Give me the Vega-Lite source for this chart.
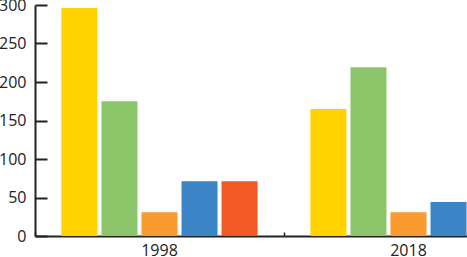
{
  "$schema": "https://vega.github.io/schema/vega-lite/v6.json",
  "autosize": {"type": "none"},
  "padding": {"left": 35, "top": 5, "right": 0, "bottom": 21},
  "width": 432,
  "height": 231,
  "background": "white",
  "config": {"view": {"stroke": null}, "font": "Open Sans"},
  "data": {
    "values": [
      {"year": "1998", "series": "s1", "value": 296},
      {"year": "1998", "series": "s2", "value": 175},
      {"year": "1998", "series": "s3", "value": 31},
      {"year": "1998", "series": "s4", "value": 71},
      {"year": "1998", "series": "s5", "value": 71},
      {"year": "2018", "series": "s1", "value": 165},
      {"year": "2018", "series": "s2", "value": 219},
      {"year": "2018", "series": "s3", "value": 31},
      {"year": "2018", "series": "s4", "value": 44}
    ]
  },
  "encoding": {
    "xOffset": {
      "field": "series",
      "type": "nominal",
      "scale": {"domain": ["s1", "s2", "s3", "s4", "s5"], "paddingInner": 0.1, "paddingOuter": 0.66}
    },
    "color": {
      "field": "series",
      "type": "nominal",
      "legend": null,
      "scale": {
        "domain": ["s1", "s2", "s3", "s4", "s5"],
        "range": ["#FFD200", "#8DC66A", "#F99B31", "#3C86C8", "#F15A25"]
      }
    }
  },
  "layer": [
    {
      "mark": {"type": "bar"},
      "encoding": {
        "x": {
          "field": "year",
          "type": "nominal",
          "scale": {"range": [0, 498], "paddingInner": 0, "paddingOuter": 0},
          "axis": {
            "title": null,
            "labelAngle": 0,
            "ticks": false,
            "domainColor": "#222",
            "domainWidth": 2,
            "labelFontSize": 16,
            "labelColor": "#222",
            "labelPadding": 6
          }
        },
        "y": {
          "field": "value",
          "type": "quantitative",
          "scale": {"domain": [0, 300], "nice": false},
          "axis": {
            "title": null,
            "grid": false,
            "values": [0, 50, 100, 150, 200, 250, 300],
            "ticks": false,
            "domainColor": "#222",
            "domainWidth": 2,
            "labelFontSize": 16,
            "labelColor": "#222",
            "labelPadding": 9
          }
        }
      }
    },
    {
      "mark": {"type": "bar", "opacity": 0},
      "encoding": {
        "x": {
          "field": "year",
          "type": "nominal",
          "axis": {
            "title": null,
            "orient": "bottom",
            "offset": -4,
            "labels": false,
            "domain": false,
            "tickBand": "extent",
            "tickSize": 4,
            "tickWidth": 1.5,
            "tickColor": "#222"
          }
        },
        "y": {
          "field": "value",
          "type": "quantitative",
          "axis": {
            "title": null,
            "orient": "left",
            "offset": -12,
            "grid": false,
            "labels": false,
            "domain": true,
            "domainOpacity": 0,
            "values": [0, 50, 100, 150, 200, 250, 300],
            "tickSize": 12,
            "tickWidth": 2,
            "tickColor": "#222"
          }
        }
      }
    }
  ],
  "resolve": {"axis": {"x": "independent", "y": "independent"}}
}
